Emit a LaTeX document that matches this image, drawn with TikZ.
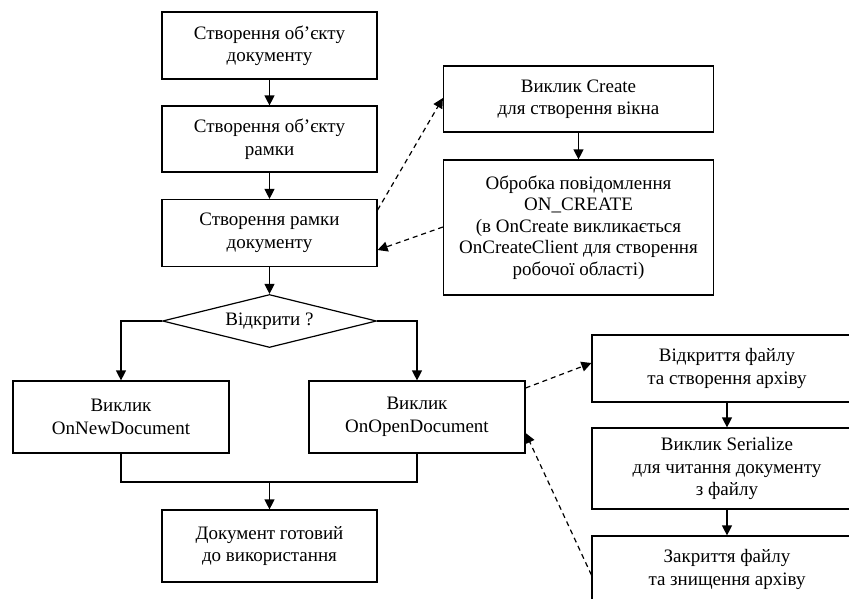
\documentclass[tikz,border=0pt]{standalone}
\usepackage{fontspec}
\setmainfont{Liberation Serif}
\usetikzlibrary{arrows.meta,shapes.geometric}

\begin{document}
\begin{tikzpicture}[
            x=1pt, y=-1pt,
            line width=1.2pt,
            every node/.style={draw, align=center, inner sep=0pt, font=\fontsize{19}{22.5}\selectfont},
            box/.style={rectangle, minimum width=215pt, minimum height=67pt},
            sidebox/.style={rectangle, minimum width=270pt, minimum height=67pt},
            question/.style={diamond, aspect=4.04, minimum width=214pt, minimum height=53pt},
            flow/.style={-{Triangle[length=10pt,width=10pt]}},
            call/.style={flow, dash pattern=on 5pt off 4pt}
            ]
            \useasboundingbox (0,0) rectangle (849,598);
            \clip (0,0) rectangle (849,598);
            % main column
            \node[box] (doc) at (269.5,45.5) {Створення об’єкту\\документу};
            \node[box, minimum height=66pt] (frame) at (269.5,139) {Створення об’єкту\\рамки};
            \node[box] (mkframe) at (269.5,233) {Створення рамки\\документу};
            \node[question] (ask) at (269.5,321) {Відкрити ?};
            \node[box, minimum width=216pt, minimum height=72pt] (newdoc) at (121,417) {Виклик\\OnNewDocument};
            \node[box, minimum width=216pt, minimum height=72pt] (opendoc) at (417,417) {Виклик\\OnOpenDocument};
            \node[box, minimum height=72pt] (ready) at (269.5,546) {Документ готовий\\до використання};
            \coordinate (join) at (269.5,482);
            % window creation
            \node[sidebox, minimum height=66pt] (create) at (578.5,99) {Виклик Create\\для створення вікна};
            \node[sidebox, minimum height=135pt, font=\fontsize{19}{21.5}\selectfont] (oncreate) at (578.5,227.5)
              {Обробка повідомлення\\ON\_CREATE\\(в OnCreate викликається\\OnCreateClient для створення\\робочої області)};
            % document loading
            \node[sidebox] (openfile) at (727,368.5) {Відкриття файлу\\та створення архіву};
            \node[sidebox, minimum height=81pt] (serial) at (727,468.5) {Виклик Serialize\\для читання документу\\з файлу};
            \node[sidebox] (closefile) at (727,569.5) {Закриття файлу\\та знищення архіву};

            \draw[flow] (doc) -- (frame);
            \draw[flow] (frame) -- (mkframe);
            \draw[flow] (mkframe) -- (ask);
            \draw[flow] (ask.west) -| (newdoc.north);
            \draw[flow] (ask.east) -| (opendoc.north);
            \draw (newdoc.south) |- (join) -| (opendoc.south);
            \draw[flow] (join) -- (ready);
            \draw[flow] (create) -- (oncreate);
            \draw[flow] (openfile) -- (serial);
            \draw[flow] (serial) -- (closefile);

            \draw[call] ([yshift=23pt]mkframe.east) -- ([yshift=1pt]create.west);
            \draw[call] ([yshift=0.5pt]oncreate.west) -- ([yshift=-17pt]mkframe.east);
            \draw[call] ([yshift=29pt]opendoc.east) -- ([yshift=5.5pt]openfile.west);
            \draw[call] ([yshift=-5.5pt]closefile.west) -- ([yshift=-16pt]opendoc.east);
        \end{tikzpicture}
\end{document}
